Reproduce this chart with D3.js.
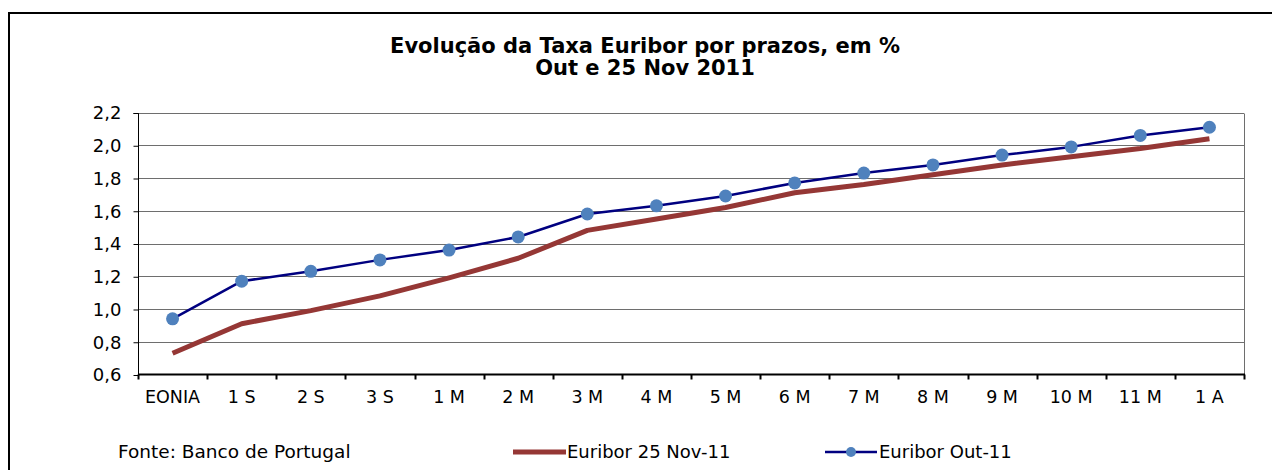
<!DOCTYPE html>
<html>
<head>
<meta charset="utf-8">
<script src="https://cdn.jsdelivr.net/npm/d3@7"></script>
<style>
  html, body { margin: 0; padding: 0; background: #fff; }
  svg { display: block; }
  text { font-family: "DejaVu Sans", Verdana, sans-serif; fill: #000; }
</style>
</head>
<body>
<svg id="chart" width="1272" height="470"></svg>
<script>
const categories = ["EONIA","1 S","2 S","3 S","1 M","2 M","3 M","4 M","5 M","6 M","7 M","8 M","9 M","10 M","11 M","1 A"];
const seriesNov = [0.73,0.91,0.99,1.08,1.19,1.31,1.48,1.55,1.62,1.71,1.76,1.82,1.88,1.93,1.98,2.04];
const seriesOct = [0.94,1.17,1.23,1.30,1.36,1.44,1.58,1.63,1.69,1.77,1.83,1.88,1.94,1.99,2.06,2.11];
const yTicks = [0.6,0.8,1.0,1.2,1.4,1.6,1.8,2.0,2.2];
const titleLines = ["Evolução da Taxa Euribor por prazos, em %", "Out e 25 Nov 2011"];
const sourceText = "Fonte: Banco de Portugal";
const legendNames = ["Euribor 25 Nov-11", "Euribor Out-11"];

const svg = d3.select("#chart");
const m = {left: 138, right: 1244, top: 112.5, bottom: 374.5};

// outer frame (left + top visible)
svg.append("path").attr("d", "M9,470V13H1272").attr("fill","none").attr("stroke","#000").attr("stroke-width",2);

const x = d3.scaleBand().domain(categories).range([m.left, m.right]).padding(0);
const y = d3.scaleLinear().domain([0.6, 2.2]).range([m.bottom, m.top]);
const fmt = d => d.toFixed(1).replace(".", ",");

// grid
svg.append("g").selectAll("line").data(yTicks.slice(1)).join("line")
  .attr("x1", m.left).attr("x2", m.right)
  .attr("y1", d => Math.round(y(d)) + 0.5).attr("y2", d => Math.round(y(d)) + 0.5)
  .attr("stroke", "#6e6e6e").attr("stroke-width", 1.2);
// right border of plot
svg.append("line").attr("x1", m.right + 0.5).attr("x2", m.right + 0.5)
  .attr("y1", Math.round(m.top)+0.5).attr("y2", m.bottom).attr("stroke", "#6e6e6e");

// y axis
const yAxis = d3.axisLeft(y).tickValues(yTicks).tickFormat(fmt).tickSize(5).tickPadding(12);
const gy = svg.append("g").attr("transform", `translate(${m.left + 0.5},0.5)`).call(yAxis);
gy.select(".domain").attr("stroke", "#000").attr("d", `M-5,${Math.round(m.top)}H0V${Math.round(m.bottom)}`);
gy.selectAll(".tick line").attr("stroke", "#000");
gy.selectAll("text").style("font-size", "18px").style("font-family", "DejaVu Sans");

// x axis
const boundaries = categories.map((c) => x(c)).concat([m.right]);
const gx = svg.append("g");
gx.append("line").attr("x1", m.left).attr("x2", m.right + 1)
  .attr("y1", m.bottom).attr("y2", m.bottom).attr("stroke", "#000").attr("stroke-width", 2);
gx.selectAll("line.tk").data(boundaries).join("line").attr("class","tk")
  .attr("x1", d => Math.round(d) + 0.5).attr("x2", d => Math.round(d) + 0.5)
  .attr("y1", m.bottom).attr("y2", m.bottom + 5).attr("stroke", "#000").attr("stroke-width", 2);
gx.selectAll("text").data(categories).join("text")
  .attr("x", d => x(d) + x.bandwidth()/2).attr("y", 403)
  .attr("text-anchor", "middle").style("font-size", "17.5px").text(d => d);

// lines
const line = d3.line().x((d, i) => x(categories[i]) + x.bandwidth()/2).y(d => y(d));
svg.append("path").datum(seriesNov).attr("d", line).attr("fill", "none")
  .attr("stroke", "#953735").attr("stroke-width", 5).attr("stroke-linejoin", "round");
svg.append("path").datum(seriesOct).attr("d", line).attr("fill", "none")
  .attr("stroke", "#000080").attr("stroke-width", 2.5).attr("stroke-linejoin", "round");
svg.append("g").selectAll("circle").data(seriesOct).join("circle")
  .attr("cx", (d, i) => x(categories[i]) + x.bandwidth()/2).attr("cy", d => y(d))
  .attr("r", 6.5).attr("fill", "#4F81BD");

// title
svg.append("g").selectAll("text").data(titleLines).join("text")
  .attr("x", 645).attr("y", (d, i) => 53 + i * 22)
  .attr("text-anchor", "middle").style("font-size", "21px").style("font-weight", "bold").text(d => d);

// source + legend
svg.append("text").attr("x", 118).attr("y", 458).style("font-size", "18.5px").text(sourceText);
const lg = svg.append("g");
lg.append("line").attr("x1", 513).attr("x2", 566).attr("y1", 452).attr("y2", 452)
  .attr("stroke", "#953735").attr("stroke-width", 5);
lg.append("text").attr("x", 567).attr("y", 458).style("font-size", "18px").text(legendNames[0]);
lg.append("line").attr("x1", 825).attr("x2", 877).attr("y1", 452).attr("y2", 452)
  .attr("stroke", "#000080").attr("stroke-width", 2.5);
lg.append("circle").attr("cx", 851).attr("cy", 452).attr("r", 5).attr("fill", "#4F81BD");
lg.append("text").attr("x", 879).attr("y", 458).style("font-size", "18px").text(legendNames[1]);
</script>
</body>
</html>
